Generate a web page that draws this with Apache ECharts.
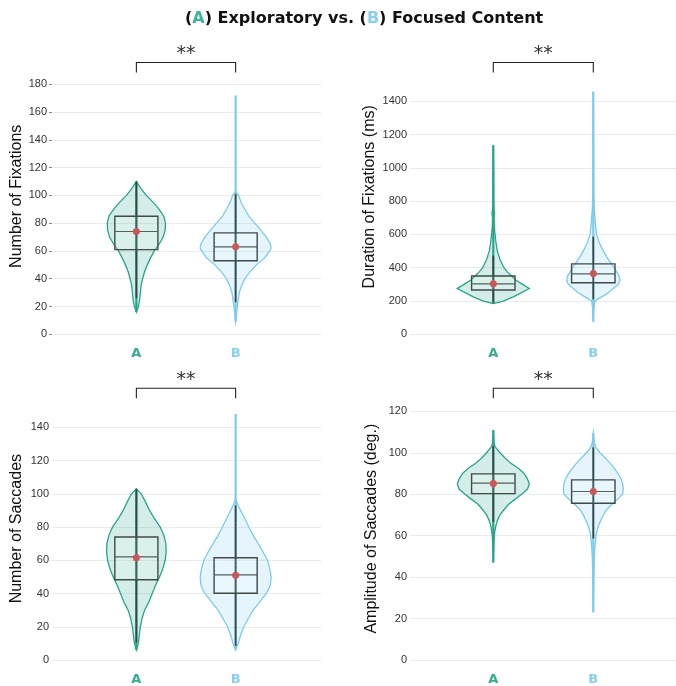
<!DOCTYPE html>
<html>
<head>
<meta charset="utf-8">
<script src="https://cdn.jsdelivr.net/npm/echarts@6/dist/echarts.min.js"></script>
<style>
  html, body { margin: 0; padding: 0; background: #fff; }
  #main { width: 676px; height: 686px; }
</style>
</head>
<body>
<div id="main"></div>
<script>
var groups = ['A', 'B'];

// violin outlines: levels (y values) and half widths (in category units)
var fixCountLevelsA = [16, 20, 25, 30, 35, 40, 45, 50, 55, 60, 65, 70, 75, 80, 85, 90, 95, 100, 105, 110];
var fixCountWidthsA = [0, .02, .033, .04, .047, .063, .083, .11, .143, .18, .23, .27, .29, .293, .277, .23, .17, .10, .045, 0];
var fixCountLevelsB = [9, 15, 20, 25, 30, 35, 40, 45, 50, 55, 60, 62, 65, 70, 75, 80, 85, 90, 95, 100, 103];
var fixCountWidthsB = [0, .01, .017, .027, .037, .06, .093, .143, .21, .293, .343, .357, .35, .31, .253, .193, .133, .093, .055, .03, 0];

var fixDurLevelsA = [185, 200, 225, 250, 275, 300, 325, 350, 375, 400, 450, 500, 550, 600, 650, 700, 725, 760, 800, 1000, 1136];
var fixDurWidthsA = [0, .10, .20, .283, .36, .293, .227, .183, .14, .107, .067, .04, .027, .017, .01, .007, .013, .007, .005, .003, 0];
var fixDurLevelsB = [76, 150, 200, 225, 250, 275, 300, 325, 350, 375, 400, 450, 500, 550, 600, 650, 700, 750, 850, 1458];
var fixDurWidthsB = [0, .005, .017, .083, .15, .20, .25, .267, .257, .233, .207, .15, .10, .06, .033, .023, .017, .01, .005, 0];

var sacCountLevelsA = [6, 10, 15, 20, 25, 30, 35, 40, 45, 50, 55, 60, 65, 70, 75, 80, 85, 90, 95, 100, 103];
var sacCountWidthsA = [0, .02, .03, .04, .057, .083, .127, .16, .193, .233, .267, .29, .30, .297, .277, .24, .183, .133, .093, .05, 0];
var sacCountLevelsB = [6, 10, 15, 20, 25, 30, 35, 40, 45, 50, 55, 60, 65, 70, 75, 80, 85, 90, 95, 97];
var sacCountWidthsB = [0, .027, .05, .083, .127, .177, .243, .31, .35, .357, .343, .32, .277, .227, .177, .133, .093, .05, .01, 0];

var sacAmpLevelsA = [47, 55, 60, 62.5, 65, 67.5, 70, 72.5, 75, 77.5, 80, 82.5, 85, 87.5, 90, 92.5, 95, 97.5, 100, 103, 105, 111];
var sacAmpWidthsA = [0, .005, .01, .017, .027, .043, .067, .107, .15, .217, .283, .343, .36, .34, .307, .25, .173, .117, .067, .017, .007, 0];
var sacAmpLevelsB = [23, 40, 50, 55, 60, 62.5, 65, 67.5, 70, 72.5, 75, 77.5, 80, 82.5, 85, 87.5, 90, 92.5, 95, 97.5, 100, 102.5, 105, 109.5];
var sacAmpWidthsB = [0, .005, .01, .017, .027, .037, .053, .077, .10, .133, .183, .243, .293, .30, .293, .277, .247, .21, .167, .12, .067, .027, .01, 0];

// box stats: [whisker low, q1, median, q3, whisker high]
var fixCountBoxA = [26, 61, 74, 85, 110];
var fixCountBoxB = [23, 53, 63, 73, 101];
var fixDurBoxA = [190, 266, 303, 350, 473];
var fixDurBoxB = [210, 310, 363, 423, 587];
var sacCountBoxA = [10.5, 48.3, 62, 74, 103];
var sacCountBoxB = [8.5, 40.2, 51.2, 61.5, 93];
var sacAmpBoxA = [66.6, 80.3, 85.3, 89.8, 103.2];
var sacAmpBoxB = [58.6, 75.6, 81.3, 86.9, 102.6];

// means
var fixCountMeans = [74, 63];
var fixDurMeans = [303, 365];
var sacCountMeans = [61.5, 51];
var sacAmpMeans = [85.2, 81.3];

// data range (min, max) shown as the thin tails
var fixCountRangeA = [16, 110], fixCountRangeB = [9, 172];
var fixDurRangeA = [185, 1136], fixDurRangeB = [76, 1458];
var sacCountRangeA = [6, 103], sacCountRangeB = [6, 148];
var sacAmpRangeA = [47, 111], sacAmpRangeB = [23, 109.5];

var axisNames = ['Number of Fixations', 'Duration of Fixations (ms)', 'Number of Saccades', 'Amplitude of Saccades (deg.)'];
var yMax = [180, 1400, 140, 120];
var yStep = [20, 200, 20, 20];
var signif = ['**', '**', '**', '**'];

var lineColors = ['#27a58a', '#7ccbea'];
var fillColors = ['rgba(39,165,138,0.2)', 'rgba(124,203,234,0.2)'];
var labelColors = ['#38ab93', '#88cfee'];

var panels = [
  { violins: [
      { y: fixCountLevelsA, w: fixCountWidthsA, box: fixCountBoxA, mean: fixCountMeans[0], range: fixCountRangeA },
      { y: fixCountLevelsB, w: fixCountWidthsB, box: fixCountBoxB, mean: fixCountMeans[1], range: fixCountRangeB }] },
  { violins: [
      { y: fixDurLevelsA, w: fixDurWidthsA, box: fixDurBoxA, mean: fixDurMeans[0], range: fixDurRangeA },
      { y: fixDurLevelsB, w: fixDurWidthsB, box: fixDurBoxB, mean: fixDurMeans[1], range: fixDurRangeB }] },
  { violins: [
      { y: sacCountLevelsA, w: sacCountWidthsA, box: sacCountBoxA, mean: sacCountMeans[0], range: sacCountRangeA },
      { y: sacCountLevelsB, w: sacCountWidthsB, box: sacCountBoxB, mean: sacCountMeans[1], range: sacCountRangeB }] },
  { violins: [
      { y: sacAmpLevelsA, w: sacAmpWidthsA, box: sacAmpBoxA, mean: sacAmpMeans[0], range: sacAmpRangeA },
      { y: sacAmpLevelsB, w: sacAmpWidthsB, box: sacAmpBoxB, mean: sacAmpMeans[1], range: sacAmpRangeB }] }
];

// layout
var grids = [
  { left: 52, top: 84.3, width: 269, height: 250 },
  { left: 410, top: 101.3, width: 266, height: 233 },
  { left: 52, top: 427.3, width: 269, height: 234.2 },
  { left: 410, top: 411.3, width: 266, height: 250.2 }
];
var xRange = [[-0.85, 1.86], [-0.833, 1.827], [-0.85, 1.86], [-0.833, 1.827]];
var nameGaps = [27, 32, 27, 30];
var nameShift = [26, 42, 30, 14];
var bracketY = [62.5, 62.5, 388.3, 388.3];
var boxHalf = 0.217;

var myChart = echarts.init(document.getElementById('main'));

function violinRender(p) {
  return function (params, api) {
    var i = api.value(0);
    var v = panels[p].violins[i];
    var pts = [], k;
    for (k = 0; k < v.y.length; k++) pts.push(api.coord([i + v.w[k], v.y[k]]));
    for (k = v.y.length - 1; k >= 0; k--) pts.push(api.coord([i - v.w[k], v.y[k]]));
    var t0 = api.coord([i, v.range[0]]), t1 = api.coord([i, v.range[1]]);
    var w0 = api.coord([i, v.box[0]]), w1 = api.coord([i, v.box[4]]);
    var q1 = api.coord([i - boxHalf, v.box[1]]), q3 = api.coord([i + boxHalf, v.box[3]]);
    var md = api.coord([i, v.box[2]]);
    var mn = api.coord([i, v.mean]);
    return {
      type: 'group',
      children: [
        { type: 'line', shape: { x1: t0[0], y1: t0[1], x2: t1[0], y2: t1[1] },
          style: { stroke: lineColors[i], lineWidth: 2.2 } },
        { type: 'polygon', shape: { points: pts },
          style: { fill: fillColors[i], stroke: lineColors[i], lineWidth: 1.3 } },
        { type: 'line', shape: { x1: w0[0], y1: w0[1], x2: w1[0], y2: w1[1] },
          style: { stroke: '#3a4646', lineWidth: 1.8 } },
        { type: 'rect', shape: { x: q1[0], y: q3[1], width: q3[0] - q1[0], height: q1[1] - q3[1] },
          style: { fill: 'rgba(255,255,255,0.12)', stroke: '#3f4b4b', lineWidth: 1.4 } },
        { type: 'line', shape: { x1: q1[0], y1: md[1], x2: q3[0], y2: md[1] },
          style: { stroke: '#556060', lineWidth: 1.2 } },
        { type: 'circle', shape: { cx: mn[0], cy: mn[1], r: 3.5 },
          style: { fill: '#cd5656' } }
      ]
    };
  };
}

function bracketRender(p) {
  return function (params, api) {
    var xa = api.coord([0, 0])[0], xb = api.coord([1, 0])[0];
    var y = bracketY[p];
    return {
      type: 'group',
      children: [
        { type: 'polyline', shape: { points: [[xa, y + 10], [xa, y], [xb, y], [xb, y + 10]] },
          style: { stroke: '#222', lineWidth: 1.1, fill: null } },
        { type: 'text', x: (xa + xb) / 2, y: y + 1,
          style: { text: signif[p], fill: '#333', font: '19px "DejaVu Sans"', align: 'center', verticalAlign: 'bottom' } }
      ]
    };
  };
}

var xAxes = [], yAxes = [], series = [];
for (var p = 0; p < 4; p++) {
  xAxes.push({
    gridIndex: p, type: 'value', min: xRange[p][0], max: xRange[p][1],
    axisLine: { show: false, onZero: false }, axisTick: { show: false }, splitLine: { show: false },
    axisLabel: {
      customValues: [0, 1], margin: 13,
      formatter: function (v) { return v === 0 ? '{a|' + groups[0] + '}' : '{b|' + groups[1] + '}'; },
      rich: {
        a: { color: labelColors[0], fontFamily: 'DejaVu Sans', fontWeight: 'bold', fontSize: 13 },
        b: { color: labelColors[1], fontFamily: 'DejaVu Sans', fontWeight: 'bold', fontSize: 13 }
      }
    }
  });
  yAxes.push({
    gridIndex: p, type: 'value', min: 0, max: yMax[p], interval: yStep[p],
    name: axisNames[p], nameLocation: 'middle', nameGap: nameGaps[p],
    nameTextStyle: { fontFamily: 'Liberation Sans', fontSize: 16, color: '#111', padding: [0, 0, 0, nameShift[p]] },
    axisLine: { show: false, onZero: false },
    axisTick: { show: p === 0, length: 3, lineStyle: { color: '#888' } },
    axisLabel: {
      fontFamily: 'Liberation Sans', fontSize: 11, color: '#333', margin: p === 0 ? 5 : 3,
      formatter: function (v) { return String(v); }
    },
    splitLine: { lineStyle: { color: '#ebebeb', width: 1 } }
  });
  series.push({
    type: 'custom', xAxisIndex: p, yAxisIndex: p,
    renderItem: violinRender(p), data: [[0], [1]], encode: { x: 0 }, silent: true
  });
  series.push({
    type: 'custom', xAxisIndex: p, yAxisIndex: p,
    renderItem: bracketRender(p), data: [[0]], encode: { x: 0 }, silent: true
  });
}

var option = {
  animation: false,
  title: {
    text: '({a|A}) Exploratory vs. ({b|B}) Focused Content',
    left: 180, top: 6,
    textStyle: {
      fontFamily: 'DejaVu Sans', fontWeight: 'bold', fontSize: 16, color: '#111',
      rich: {
        a: { color: '#3db39c', fontFamily: 'DejaVu Sans', fontWeight: 'bold', fontSize: 16 },
        b: { color: '#88d0ee', fontFamily: 'DejaVu Sans', fontWeight: 'bold', fontSize: 16 }
      }
    }
  },
  grid: grids,
  xAxis: xAxes,
  yAxis: yAxes,
  series: series
};

myChart.setOption(option);
</script>
</body>
</html>
